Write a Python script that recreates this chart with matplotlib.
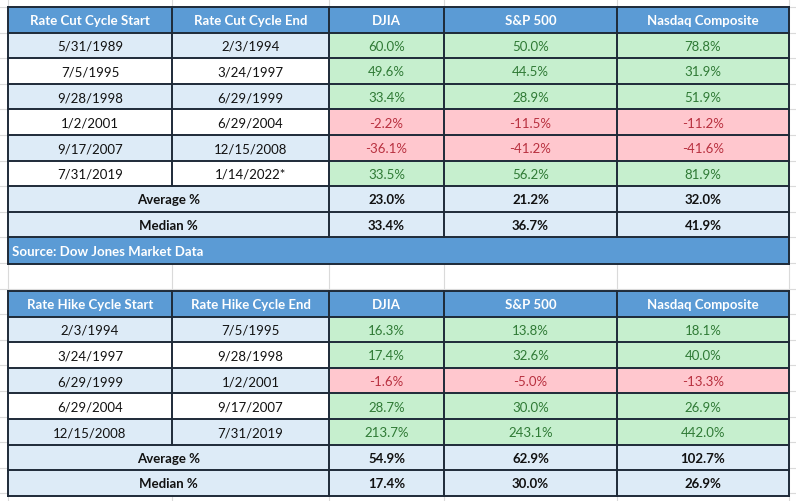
import numpy as np
import matplotlib as mpl
mpl.use('Agg')
from matplotlib import pyplot as plt
from matplotlib.patches import Rectangle

plt.rcParams['font.family'] = ['Lato', 'DejaVu Sans']

# ---- data ----
cut_headers = ['Rate Cut Cycle Start', 'Rate Cut Cycle End', 'DJIA', 'S&P 500', 'Nasdaq Composite']
cut_start = ['5/31/1989', '7/5/1995', '9/28/1998', '1/2/2001', '9/17/2007', '7/31/2019']
cut_end = ['2/3/1994', '3/24/1997', '6/29/1999', '6/29/2004', '12/15/2008', '1/14/2022*']
cut_djia = [60.0, 49.6, 33.4, -2.2, -36.1, 33.5]
cut_spx = [50.0, 44.5, 28.9, -11.5, -41.2, 56.2]
cut_ndq = [78.8, 31.9, 51.9, -11.2, -41.6, 81.9]
cut_avg = [23.0, 21.2, 32.0]
cut_med = [33.4, 36.7, 41.9]

hike_headers = ['Rate Hike Cycle Start', 'Rate Hike Cycle End', 'DJIA', 'S&P 500', 'Nasdaq Composite']
hike_start = ['2/3/1994', '3/24/1997', '6/29/1999', '6/29/2004', '12/15/2008']
hike_end = ['7/5/1995', '9/28/1998', '1/2/2001', '9/17/2007', '7/31/2019']
hike_djia = [16.3, 17.4, -1.6, 28.7, 213.7]
hike_spx = [13.8, 32.6, -5.0, 30.0, 243.1]
hike_ndq = [18.1, 40.0, -13.3, 26.9, 442.0]
hike_avg = [54.9, 62.9, 102.7]
hike_med = [17.4, 30.0, 26.9]

source_text = 'Source: Dow Jones Market Data'

# ---- layout / style ----
W, H = 796, 502
col_edges = [8, 172, 329, 444, 617, 789]
row_h = 25.6
blue = '#5B9BD5'
light = '#DDEBF7'
green_bg, green_fg = '#C6EFCE', '#2F7A35'
red_bg, red_fg = '#FFC7CE', '#B8303F'
line_c = '#1E2A38'
fs = 9.5


def cell(ax, c0, c1, y, color):
    ax.add_patch(Rectangle((col_edges[c0], y), col_edges[c1] - col_edges[c0], row_h,
                           facecolor=color, edgecolor='none', zorder=1))


def text(ax, c0, c1, y, s, color='#111111', bold=False):
    ax.text((col_edges[c0] + col_edges[c1]) / 2, y + row_h / 2 + 0.5, s, ha='center', va='center',
            fontsize=fs, color=color, fontweight='bold' if bold else 'normal', zorder=3)


def hline(ax, y, x0=col_edges[0], x1=col_edges[-1]):
    ax.plot([x0, x1], [y, y], color=line_c, lw=1.4, zorder=4, solid_capstyle='projecting')


def vline(ax, x, y0, y1):
    ax.plot([x, x], [y0, y1], color=line_c, lw=1.4, zorder=4, solid_capstyle='projecting')


def draw_table(ax, top, headers, start, end, series, avg, med, source=None):
    n = len(start)
    # header
    for j, h in enumerate(headers):
        cell(ax, j, j + 1, top, blue)
        text(ax, j, j + 1, top, h, color='white', bold=True)
    # data rows
    for i in range(n):
        y = top + (i + 1) * row_h
        bg = light if i % 2 == 0 else 'white'
        cell(ax, 0, 2, y, bg)
        text(ax, 0, 1, y, start[i])
        text(ax, 1, 2, y, end[i])
        for j, vals in enumerate(series):
            v = vals[i]
            cell(ax, 2 + j, 3 + j, y, green_bg if v >= 0 else red_bg)
            text(ax, 2 + j, 3 + j, y, '%.1f%%' % v, color=green_fg if v >= 0 else red_fg)
    # summary rows
    for k, (lab, vals) in enumerate([('Average %', avg), ('Median %', med)]):
        y = top + (n + 1 + k) * row_h
        cell(ax, 0, 5, y, light)
        text(ax, 0, 2, y, lab, bold=True)
        for j, v in enumerate(vals):
            text(ax, 2 + j, 3 + j, y, '%.1f%%' % v, bold=True)
    bottom = top + (n + 3) * row_h
    # lines
    for r in range(n + 4):
        hline(ax, top + r * row_h)
    for j, x in enumerate(col_edges):
        if j == 1:
            vline(ax, x, top, top + (n + 1) * row_h)
        else:
            vline(ax, x, top, bottom)
    if source:
        ax.add_patch(Rectangle((col_edges[0], bottom), col_edges[-1] - col_edges[0], row_h + 1,
                               facecolor=blue, edgecolor='none', zorder=1))
        ax.text(col_edges[0] + 4, bottom + row_h / 2 + 0.5, source, ha='left', va='center',
                fontsize=fs, color='white', fontweight='bold', zorder=3)
        hline(ax, bottom + row_h + 1)
        vline(ax, col_edges[0], bottom, bottom + row_h + 1)
        vline(ax, col_edges[-1], bottom, bottom + row_h + 1)


fig = plt.figure(figsize=(W / 100, H / 100), dpi=100)
ax = fig.add_axes([0, 0, 1, 1])
ax.set_xlim(0, W)
ax.set_ylim(H, 0)
ax.axis('off')

# faint spreadsheet grid behind the tables
for x in col_edges:
    ax.axvline(x, color='#DADADA', lw=0.8, zorder=0)
for r in range(-1, 20):
    ax.axhline(8 + r * row_h, color='#DADADA', lw=0.8, zorder=0)

draw_table(ax, 8, cut_headers, cut_start, cut_end, [cut_djia, cut_spx, cut_ndq],
           cut_avg, cut_med, source=source_text)
draw_table(ax, 292, hike_headers, hike_start, hike_end, [hike_djia, hike_spx, hike_ndq],
           hike_avg, hike_med)

fig.savefig('out.png', dpi=100)
